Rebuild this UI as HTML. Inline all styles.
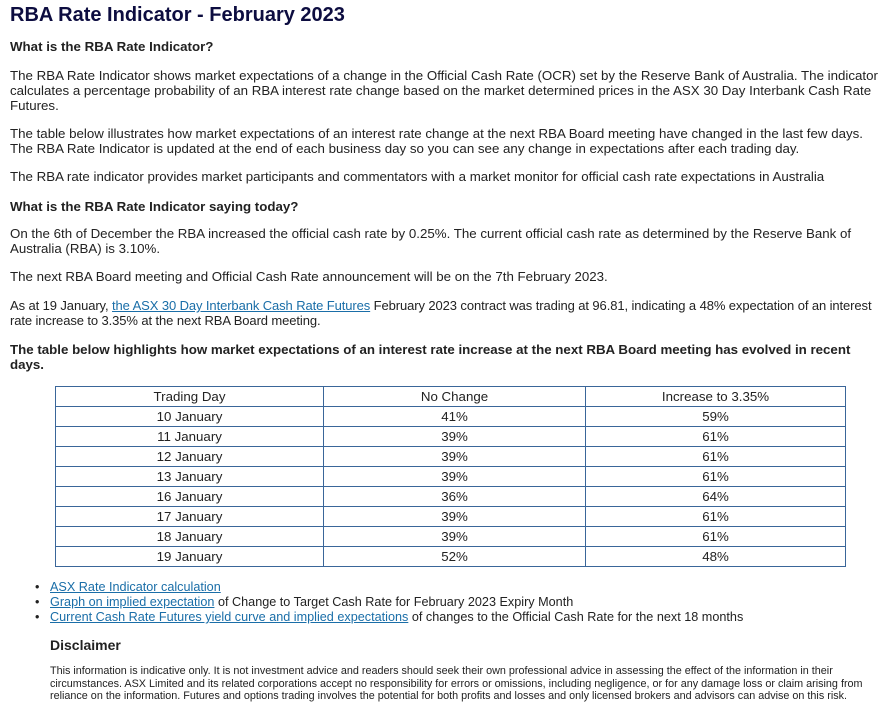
<!DOCTYPE html>
<html><head><style>
body{margin:0;width:891px;height:719px;background:#fff;font-family:"Liberation Sans",Arial,sans-serif;color:#222;position:relative;overflow:hidden}
.a{position:absolute;left:10px;font-size:13.3px;line-height:15px;white-space:nowrap}
a{color:#1a6ea8;text-decoration:underline}
table{position:absolute;left:55px;top:386px;width:791px;border-collapse:collapse;font-size:13.3px}
td{border:1px solid #3a6699;height:19px;padding:0;text-align:center;line-height:19px}
.li{position:absolute;left:35px;font-size:12.65px;line-height:15px;white-space:nowrap}
.li span{position:absolute;left:15px}
</style></head><body>
<div class="a" style="top:3px;font-size:20px;line-height:24px;font-weight:bold;color:#0d0d40">RBA Rate Indicator - February 2023</div>
<div class="a" style="top:39px;font-weight:bold">What is the RBA Rate Indicator?</div>
<div class="a" style="top:68px">The RBA Rate Indicator shows market expectations of a change in the Official Cash Rate (OCR) set by the Reserve Bank of Australia. The indicator<br>calculates a percentage probability of an RBA interest rate change based on the market determined prices in the ASX 30 Day Interbank Cash Rate<br>Futures.</div>
<div class="a" style="top:126px">The table below illustrates how market expectations of an interest rate change at the next RBA Board meeting have changed in the last few days.<br>The RBA Rate Indicator is updated at the end of each business day so you can see any change in expectations after each trading day.</div>
<div class="a" style="top:169px">The RBA rate indicator provides market participants and commentators with a market monitor for official cash rate expectations in Australia</div>
<div class="a" style="top:199px;font-weight:bold">What is the RBA Rate Indicator saying today?</div>
<div class="a" style="top:226px">On the 6th of December the RBA increased the official cash rate by 0.25%. The current official cash rate as determined by the Reserve Bank of<br>Australia (RBA) is 3.10%.</div>
<div class="a" style="top:269px">The next RBA Board meeting and Official Cash Rate announcement will be on the 7th February 2023.</div>
<div class="a" style="top:298px;font-size:13px;letter-spacing:-0.1px">As at 19 January, <a>the ASX 30 Day Interbank Cash Rate Futures</a> February 2023 contract was trading at 96.81, indicating a 48% expectation of an interest<br>rate increase to 3.35% at the next RBA Board meeting.</div>
<div class="a" style="top:342px;font-weight:bold">The table below highlights how market expectations of an interest rate increase at the next RBA Board meeting has evolved in recent<br>days.</div>
<table>
<tr><td style="width:267px">Trading Day</td><td style="width:261px">No Change</td><td>Increase to 3.35%</td></tr>
<tr><td>10 January</td><td>41%</td><td>59%</td></tr>
<tr><td>11 January</td><td>39%</td><td>61%</td></tr>
<tr><td>12 January</td><td>39%</td><td>61%</td></tr>
<tr><td>13 January</td><td>39%</td><td>61%</td></tr>
<tr><td>16 January</td><td>36%</td><td>64%</td></tr>
<tr><td>17 January</td><td>39%</td><td>61%</td></tr>
<tr><td>18 January</td><td>39%</td><td>61%</td></tr>
<tr><td>19 January</td><td>52%</td><td>48%</td></tr>
</table>
<div class="li" style="top:580px">•<span><a>ASX Rate Indicator calculation</a></span></div>
<div class="li" style="top:595px">•<span><a>Graph on implied expectation</a> of Change to Target Cash Rate for February 2023 Expiry Month</span></div>
<div class="li" style="top:610px">•<span><a>Current Cash Rate Futures yield curve and implied expectations</a> of changes to the Official Cash Rate for the next 18 months</span></div>
<div class="a" style="left:50px;top:637px;font-size:14px;line-height:16px;font-weight:bold">Disclaimer</div>
<div class="a" style="left:50px;top:665px;font-size:10.8px;line-height:12.5px">This information is indicative only. It is not investment advice and readers should seek their own professional advice in assessing the effect of the information in their<br>circumstances. ASX Limited and its related corporations accept no responsibility for errors or omissions, including negligence, or for any damage loss or claim arising from<br>reliance on the information. Futures and options trading involves the potential for both profits and losses and only licensed brokers and advisors can advise on this risk.</div>
</body></html>
